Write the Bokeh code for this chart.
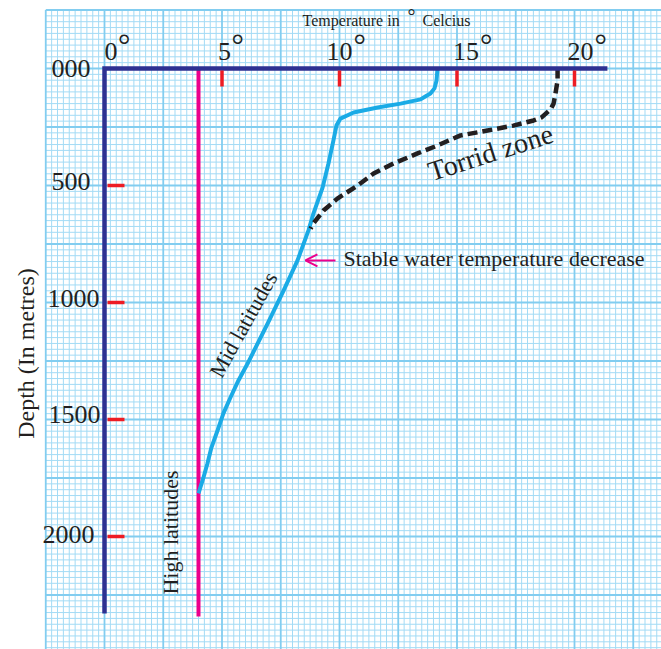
import numpy as np
from bokeh.plotting import figure
from bokeh.models import Range1d, Arrow, OpenHead
from bokeh.core.properties import value
from bokeh.embed import file_html
from bokeh.resources import INLINE

# ---------------- data ----------------
temp_ticks = [0, 5, 10, 15, 20]
temp_tick_labels = ["0", "5", "10", "15", "20"]
depth_ticks = [0, 500, 1000, 1500, 2000]
depth_tick_labels = ["000", "500", "1000", "1500", "2000"]

# Mid latitudes temperature profile (deg C vs depth m)
mid_temp = [14.17, 14.13, 14.04, 13.87, 13.65, 13.45, 12.60, 11.62, 10.60, 10.04, 9.87,
            9.74, 9.53, 9.28, 8.89, 8.68, 8.21, 7.62, 6.94, 6.09, 5.70, 5.36, 5.06,
            4.81, 4.55, 4.38, 4.20, 4.00]
mid_depth = [0, 51, 85, 107, 120, 132, 150, 167, 188, 214, 244,
             308, 406, 509, 620, 692, 821, 949, 1090, 1261, 1333, 1406, 1474,
             1547, 1620, 1688, 1752, 1816]

# Torrid zone temperature profile
torrid_temp = [19.28, 19.28, 19.19, 19.11, 18.98, 18.60, 18.26, 17.40, 16.30, 15.15,
               14.17, 13.32, 12.30, 11.45, 10.77, 9.91, 9.32, 8.89, 8.77]
torrid_depth = [0, 51, 107, 150, 175, 209, 222, 244, 265, 286,
                329, 363, 406, 449, 500, 556, 607, 662, 684]

# High latitudes (constant temperature)
high_temp = [4.0, 4.0]
high_depth = [0, 2342]

axis_temp_max = 21.4
axis_depth_max = 2329

# ---------------- scale / layout ----------------
PX_PER_DEG = 23.5
PX_PER_M = 117 / 500
FIG_W, FIG_H = 661, 649
X0 = -104 / PX_PER_DEG
Y0 = -68 / PX_PER_M
x_range = Range1d(X0, X0 + FIG_W / PX_PER_DEG)
y_range = Range1d(Y0 + FIG_H / PX_PER_M, Y0)

NAVY = "#2E3192"
MAGENTA = "#EC008C"
CYAN = "#1AABE6"
RED = "#ED1C24"
INK = "#231F20"
FONT = value("Liberation Serif")

p = figure(width=FIG_W, height=FIG_H, x_range=x_range, y_range=y_range,
           output_backend="svg", toolbar_location=None, min_border=0,
           x_axis_location=None, y_axis_location=None, outline_line_color=None,
           background_fill_color="white", border_fill_color="white")
p.grid.visible = False

# ---------------- graph paper ----------------
kx = np.arange(0, int((x_range.end + 2.5) / 0.25) + 1)
gx = -2.5 + 0.25 * kx
ky = np.arange(0, int((y_range.start + 250) / 25) + 1)
gy = -250 + 25 * ky
for sel, color, lw in [(lambda k: k % 10 != 0, "#A3DBF5", 1.0),
                       (lambda k: k % 10 == 0, "#82CDF0", 1.8)]:
    vx = gx[sel(kx)]
    p.segment(x0=vx, y0=np.full(len(vx), -250.0), x1=vx,
              y1=np.full(len(vx), y_range.start), line_color=color, line_width=lw)
    hy = gy[sel(ky)]
    p.segment(x0=np.full(len(hy), -2.5), y0=hy, x1=np.full(len(hy), x_range.end),
              y1=hy, line_color=color, line_width=lw)

# ---------------- profiles ----------------
p.line(high_temp, high_depth, line_color=MAGENTA, line_width=4)
p.line(mid_temp, mid_depth, line_color=CYAN, line_width=4, line_join="round")
p.line(torrid_temp, torrid_depth, line_color=INK, line_width=4.5, line_dash="10 5",
       line_join="round")

# ---------------- axes ----------------
p.line([axis_temp_max, 0, 0], [0, 0, axis_depth_max], line_color=NAVY, line_width=4.5,
       line_join="miter")

tick_len_px = 18
tt = [t for t in temp_ticks if t != 0]
p.segment(x0=tt, y0=[2 / PX_PER_M] * len(tt), x1=tt,
          y1=[tick_len_px / PX_PER_M] * len(tt), line_color=RED, line_width=3.5)
dt = [d for d in depth_ticks if d != 0]
p.segment(x0=[3 / PX_PER_DEG] * len(dt), y0=dt, x1=[20 / PX_PER_DEG] * len(dt), y1=dt,
          line_color=RED, line_width=3.5)

# temperature tick labels (number + raised degree sign)
t_dx = [0, -4, -13, -4, -7]
lab_x = [t + dx / PX_PER_DEG for t, dx in zip(temp_ticks, t_dx)]
p.text(x=lab_x, y=[-17 / PX_PER_M] * 5, text=temp_tick_labels, text_font=FONT,
       text_font_size="26px", text_color=INK, text_align="left",
       text_baseline="middle")
deg_x = [x + 13.5 * len(s) / PX_PER_DEG for x, s in zip(lab_x, temp_tick_labels)]
p.text(x=deg_x, y=[-23 / PX_PER_M] * 5, text=["°"] * 5, text_font=FONT,
       text_font_size="31px", text_color=INK, text_align="left",
       text_baseline="middle")

# depth tick labels
d_dx = [-14, -14, -5, -4, -10]
d_dy = [0, -4, -4, -5, -2]
p.text(x=[dx / PX_PER_DEG for dx in d_dx],
       y=[d + dy / PX_PER_M for d, dy in zip(depth_ticks, d_dy)],
       text=depth_tick_labels, text_font=FONT, text_font_size="26px", text_color=INK,
       text_align="right", text_baseline="middle")

# ---------------- titles and annotations ----------------
def label(x, y, s, size, angle=0.0, align="left", baseline="middle", color=INK):
    p.text(x=[x], y=[y], text=[s], angle=angle, text_font=FONT,
           text_font_size=size, text_color=color, text_align=align,
           text_baseline=baseline)

label(8.43, -205, "Temperature in", "16px")
label(12.89, -226, "°", "20px")
label(13.53, -205, "Celcius", "16px")
label(-3.36, 1218, "Depth (In metres)", "24px", angle=np.pi / 2, align="center")
label(16.43, 359, "Torrid zone", "28px", angle=0.31, align="center")
label(5.91, 1094, "Mid latitudes", "22px", angle=1.065, align="center")
label(2.81, 1983, "High latitudes", "22px", angle=np.pi / 2, align="center")
label(10.17, 812, "Stable water temperature decrease", "22px")

p.add_layout(Arrow(end=OpenHead(size=12, line_color=MAGENTA, line_width=2),
                   x_start=9.83, y_start=820, x_end=8.55, y_end=820,
                   line_color=MAGENTA, line_width=2))

open("out.html", "w").write(file_html(p, INLINE))
